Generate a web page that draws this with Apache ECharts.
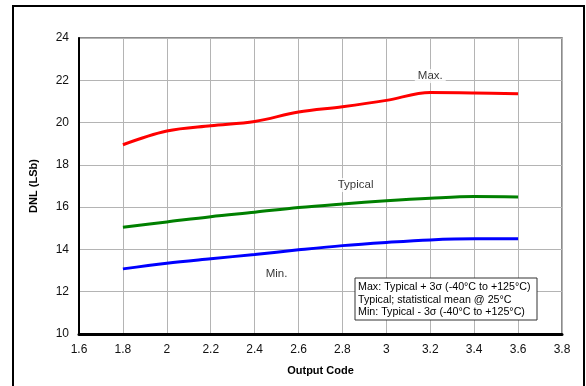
<!DOCTYPE html>
<html>
<head>
<meta charset="utf-8">
<script src="https://cdn.jsdelivr.net/npm/echarts@6/dist/echarts.min.js"></script>
<style>
  html, body { margin: 0; padding: 0; background: #fff; }
  #draw_area { width: 586px; height: 386px; }
</style>
</head>
<body>
<div id="draw_area"></div>
<script>
"use strict";

// 横坐标：输出码
var codes = [1.8, 2.0, 2.2, 2.4, 2.6, 2.8, 3.0, 3.2, 3.4, 3.6];

// 三条曲线的数据
var max_dnl = [18.95, 19.6, 19.85, 20.05, 20.5, 20.75, 21.05, 21.42, 21.4, 21.36];
var typ_dnl = [15.05, 15.3, 15.55, 15.76, 15.98, 16.15, 16.3, 16.42, 16.5, 16.48];
var min_dnl = [13.08, 13.35, 13.56, 13.76, 13.98, 14.18, 14.33, 14.45, 14.5, 14.5];

// 曲线旁边的标注：[文字, x, y]
var curve_labels = [
    ['Max.', 3.2, 22.2],
    ['Typical', 2.86, 17.05],
    ['Min.', 2.5, 12.85]
];

var legend_lines = [
    'Max: Typical + 3\u03c3 (-40\u00b0C to +125\u00b0C)',
    'Typical; statistical mean @ 25\u00b0C',
    'Min: Typical - 3\u03c3 (-40\u00b0C to +125\u00b0C)'
];

var font = 'Liberation Sans, Arial, sans-serif';

function pairs(ys) {
    return codes.map(function (x, i) { return [x, ys[i]]; });
}

function make_series(name, ys, color) {
    return {
        name: name,
        type: 'line',
        data: pairs(ys),
        smooth: 0.35,
        symbol: 'none',
        lineStyle: { color: color, width: 3 },
        z: 3
    };
}

var label_series = {
    type: 'scatter',
    symbolSize: 0,
    data: curve_labels.map(function (l) { return { value: [l[1], l[2]], name: l[0] }; }),
    label: {
        show: true,
        position: 'inside',
        formatter: function (p) { return p.name; },
        color: '#000',
        fontFamily: font,
        fontSize: 11.5,
        backgroundColor: '#fff',
        padding: [1, 3]
    },
    silent: true,
    z: 4
};

var option = {
    animation: false,
    backgroundColor: '#fff',
    grid: {
        left: 79, right: 24, top: 38, bottom: 52,
        show: true,
        borderColor: '#666',
        borderWidth: 1.5
    },
    xAxis: {
        type: 'value',
        min: 1.6, max: 3.8, interval: 0.2,
        name: 'Output Code',
        nameLocation: 'middle',
        nameGap: 31,
        nameTextStyle: { fontFamily: font, fontSize: 11, fontWeight: 'bold', color: '#000' },
        axisLine: { show: true, lineStyle: { color: '#000', width: 3 } },
        axisTick: { show: false },
        axisLabel: {
            fontFamily: font, fontSize: 12, color: '#111', margin: 10,
            formatter: function (v) { return String(Math.round(v * 10) / 10); }
        },
        splitLine: { show: true, lineStyle: { color: '#b4b4b4', width: 1 } }
    },
    yAxis: {
        type: 'value',
        min: 10, max: 24, interval: 2,
        name: 'DNL (LSb)',
        nameLocation: 'middle',
        nameGap: 40,
        nameTextStyle: { fontFamily: font, fontSize: 11, fontWeight: 'bold', color: '#000' },
        axisLine: { show: true, lineStyle: { color: '#000', width: 2 } },
        axisTick: { show: false },
        axisLabel: { fontFamily: font, fontSize: 12, color: '#111', margin: 10 },
        splitLine: { show: true, lineStyle: { color: '#b4b4b4', width: 1 } }
    },
    series: [
        make_series('Max', max_dnl, '#ff0000'),
        make_series('Typical', typ_dnl, '#008000'),
        make_series('Min', min_dnl, '#0000ff'),
        label_series
    ],
    graphic: [
        {
            type: 'rect',
            shape: { x: 13, y: 6, width: 571, height: 390 },
            style: { fill: 'none', stroke: '#000', lineWidth: 2 },
            z: 10
        },
        {
            type: 'rect',
            shape: { x: 355, y: 278, width: 182, height: 42 },
            style: { fill: '#fff', stroke: '#333', lineWidth: 1 },
            z: 20
        },
        {
            type: 'text',
            x: 358, y: 281,
            style: {
                text: legend_lines.join('\n'),
                font: '10.7px ' + font,
                fill: '#000',
                lineHeight: 12.5
            },
            z: 21
        }
    ]
};

var chart_object = echarts.init(document.getElementById('draw_area'));
chart_object.setOption(option);
</script>
</body>
</html>
